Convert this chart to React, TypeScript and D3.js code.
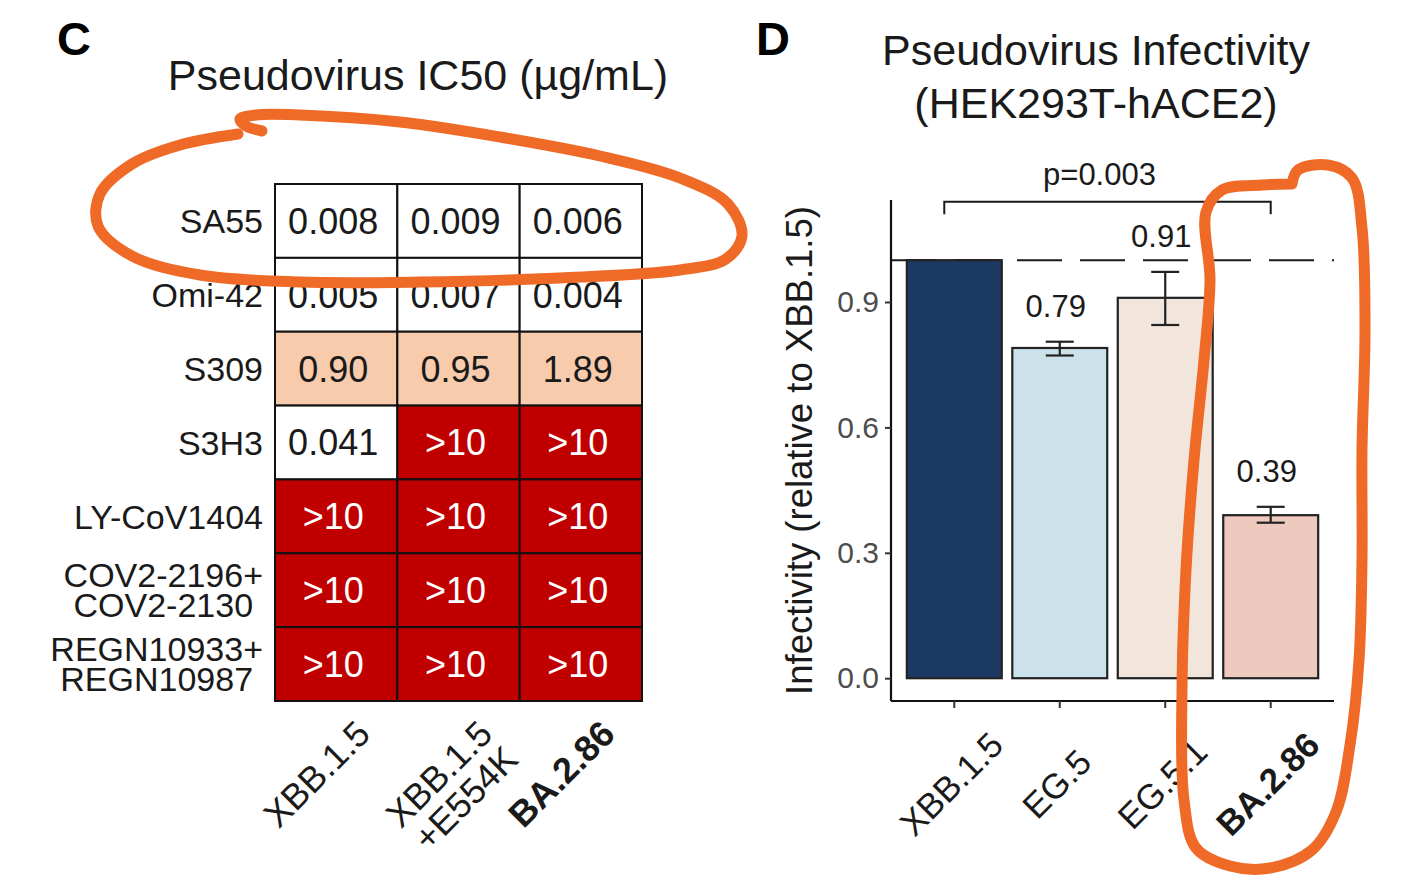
import { useEffect, useRef } from 'react'
import * as d3 from 'd3'

// Panel C: IC50 table
const antibodies = ['SA55', 'Omi-42', 'S309', 'S3H3', 'LY-CoV1404', 'COV2-2196+\nCOV2-2130', 'REGN10933+\nREGN10987']
const pseudoviruses = ['XBB.1.5', 'XBB.1.5\n+E554K', 'BA.2.86']
const ic50XBB15 = ['0.008', '0.005', '0.90', '0.041', '>10', '>10', '>10']
const ic50E554K = ['0.009', '0.007', '0.95', '>10', '>10', '>10', '>10']
const ic50BA286 = ['0.006', '0.004', '1.89', '>10', '>10', '>10', '>10']

// Panel D: infectivity
const variants = ['XBB.1.5', 'EG.5', 'EG.5.1', 'BA.2.86']
const infectivity = [1.0, 0.79, 0.91, 0.39]
const errLow = [1.0, 0.772, 0.845, 0.372]
const errHigh = [1.0, 0.805, 0.972, 0.41]
const barLabels = ['', '0.79', '0.91', '0.39']
const barColors = ['#1C3964', '#CCE2EA', '#F2E6DC', '#EEC9BD']
const yTicks = [0, 0.3, 0.6, 0.9]
const pText = 'p=0.003'

// hand-drawn highlight strokes on top of the figure
const loopSA55: [number, number][] = [
  [262, 131], [246, 126], [240, 119], [256, 115], [300, 115], [400, 122], [500, 137], [600, 156], [680, 178],
  [728, 204], [742, 236], [726, 259], [680, 270], [560, 278], [420, 282], [300, 282], [200, 275],
  [132, 256], [98, 226], [100, 194], [132, 164], [180, 145], [238, 134],
]
const loopBA286: [number, number][] = [
  [1292, 184], [1298, 170], [1328, 165], [1352, 178], [1362, 228], [1365, 330], [1362, 450], [1362, 560],
  [1359, 660], [1350, 745], [1336, 812], [1312, 850], [1270, 868], [1230, 866], [1196, 848], [1184, 800],
  [1182, 690], [1186, 570], [1194, 460], [1204, 360], [1210, 280], [1206, 212], [1222, 190], [1262, 185], [1290, 184],
]

const FONT = "'Liberation Sans', Arial, sans-serif"

function parseIC50(s: string): number {
  return s.startsWith('>') ? Infinity : +s
}

export default function App() {
  const svgRef = useRef<SVGSVGElement>(null)

  useEffect(() => {
    if (!svgRef.current) return
    const svg = d3.select(svgRef.current)
    svg.selectAll('*').remove()
    svg.attr('font-family', FONT)

    // ---------- Panel C ----------
    const c = svg.append('g')
    c.append('text').attr('x', 57).attr('y', 55).attr('font-size', 47).attr('font-weight', 'bold').text('C')
    c.append('text').attr('x', 418).attr('y', 90).attr('text-anchor', 'middle').attr('font-size', 43)
      .attr('fill', '#1a1a1a').text('Pseudovirus IC50 (µg/mL)')

    const cols = [ic50XBB15, ic50E554K, ic50BA286]
    const x = d3.scaleBand<string>().domain(pseudoviruses).range([275, 642])
    const y = d3.scaleBand<string>().domain(antibodies).range([184, 701])
    const fill = d3.scaleThreshold<number, string>().domain([0.1, 10]).range(['#FFFFFF', '#F8CBAD', '#C00000'])

    const cells = pseudoviruses.flatMap((pv, j) => antibodies.map((ab, i) => ({ pv, ab, txt: cols[j][i] })))
    c.selectAll('rect.cell').data(cells).join('rect')
      .attr('x', d => x(d.pv)!).attr('y', d => y(d.ab)!)
      .attr('width', x.bandwidth()).attr('height', y.bandwidth())
      .attr('fill', d => fill(parseIC50(d.txt)))
      .attr('stroke', '#111').attr('stroke-width', 2)
    c.selectAll('text.cell').data(cells).join('text')
      .attr('x', d => x(d.pv)! + x.bandwidth() / 2 - 3).attr('y', d => y(d.ab)! + y.bandwidth() / 2)
      .attr('dy', '0.36em').attr('text-anchor', 'middle').attr('font-size', 36)
      .attr('fill', d => (parseIC50(d.txt) > 10 ? '#fff' : '#1a1a1a'))
      .text(d => d.txt)

    // row labels: block right-aligned, lines centred inside the block
    antibodies.forEach(ab => {
      const lines = ab.split('\n')
      const cy = y(ab)! + y.bandwidth() / 2
      const g = c.append('g')
      const texts = lines.map((ln, k) =>
        g.append('text').attr('y', cy + (k - (lines.length - 1) / 2) * 30)
          .attr('dy', '0.36em').attr('text-anchor', 'middle').attr('font-size', 34).attr('fill', '#1a1a1a').text(ln))
      const w = d3.max(texts, t => (t.node() as SVGTextElement).getComputedTextLength()) ?? 0
      texts.forEach(t => t.attr('x', 263 - w / 2))
    })
    // column labels
    pseudoviruses.forEach(pv => {
      const cx = x(pv)! + x.bandwidth() / 2
      const t = c.append('text').attr('transform', `translate(${cx + 36},736) rotate(-45)`)
        .attr('text-anchor', 'end').attr('font-size', 36).attr('fill', '#1a1a1a')
        .attr('font-weight', pv === 'BA.2.86' ? 'bold' : 'normal')
      pv.split('\n').forEach((ln, k) => {
        t.append('tspan').attr('x', 0).attr('dy', k === 0 ? 0 : '1.0em').text(ln)
      })
    })

    // ---------- Panel D ----------
    const d = svg.append('g')
    d.append('text').attr('x', 756).attr('y', 55).attr('font-size', 47).attr('font-weight', 'bold').text('D')
    d.append('text').attr('x', 1096).attr('y', 65).attr('text-anchor', 'middle').attr('font-size', 43)
      .attr('fill', '#1a1a1a').text('Pseudovirus Infectivity')
    d.append('text').attr('x', 1096).attr('y', 118).attr('text-anchor', 'middle').attr('font-size', 43)
      .attr('fill', '#1a1a1a').text('(HEK293T-hACE2)')

    const bx = d3.scaleBand<string>().domain(variants).range([891, 1334]).paddingInner(0.1).paddingOuter(0.15)
    const by = d3.scaleLinear().domain([-0.0545, 1.144]).range([701, 200])
    const bw = bx.bandwidth()
    const mid = (v: string) => bx(v)! + bw / 2

    // reference line at 1
    d.append('line').attr('x1', 891).attr('x2', 1334).attr('y1', by(1)).attr('y2', by(1))
      .attr('stroke', '#1a1a1a').attr('stroke-width', 2).attr('stroke-dasharray', '45 18')

    // bars
    d.selectAll('rect.bar').data(variants).join('rect')
      .attr('x', v => bx(v)!).attr('width', bw)
      .attr('y', (_, i) => by(infectivity[i])).attr('height', (_, i) => by(0) - by(infectivity[i]))
      .attr('fill', (_, i) => barColors[i]).attr('stroke', '#222').attr('stroke-width', 2.2)

    // error bars
    variants.forEach((v, i) => {
      if (errHigh[i] === errLow[i]) return
      const cx = mid(v)
      const g = d.append('g').attr('stroke', '#222').attr('stroke-width', 2.2)
      g.append('line').attr('x1', cx).attr('x2', cx).attr('y1', by(errLow[i])).attr('y2', by(errHigh[i]))
      g.append('line').attr('x1', cx - 14).attr('x2', cx + 14).attr('y1', by(errLow[i])).attr('y2', by(errLow[i]))
      g.append('line').attr('x1', cx - 14).attr('x2', cx + 14).attr('y1', by(errHigh[i])).attr('y2', by(errHigh[i]))
      d.append('text').attr('x', cx - 4).attr('y', by(errHigh[i]) - 25).attr('text-anchor', 'middle')
        .attr('font-size', 31).attr('fill', '#1a1a1a').text(barLabels[i])
    })

    // significance bracket
    const bl = mid(variants[0]) - 10
    const br = mid(variants[3])
    d.append('path')
      .attr('d', `M${bl},${by(1.11)}V${by(1.14)}H${br}V${by(1.11)}`)
      .attr('fill', 'none').attr('stroke', '#1a1a1a').attr('stroke-width', 2)
    d.append('text').attr('x', (bl + br) / 2 - 8).attr('y', by(1.14) - 17).attr('text-anchor', 'middle')
      .attr('font-size', 31).attr('fill', '#1a1a1a').text(pText)

    // axes
    d.append('g').attr('transform', 'translate(891,0)')
      .call(d3.axisLeft(by).tickValues(yTicks).tickFormat(d3.format('.1f')).tickSize(6).tickPadding(6))
      .call(s => s.select('.domain').attr('d', `M0,${by.range()[1]}V${by.range()[0]}`).attr('stroke', '#111').attr('stroke-width', 2.2))
      .call(s => s.selectAll('.tick line').attr('stroke', '#333').attr('stroke-width', 2))
      .call(s => s.selectAll('.tick text').attr('font-size', 30).attr('fill', '#4D4D4D').attr('font-family', FONT))
    d.append('g').attr('transform', 'translate(0,701)')
      .call(d3.axisBottom(bx).tickSize(7).tickFormat(() => ''))
      .call(s => s.select('.domain').attr('d', `M891,0H1334`).attr('stroke', '#111').attr('stroke-width', 2.2))
      .call(s => s.selectAll('.tick line').attr('stroke', '#333').attr('stroke-width', 2))

    variants.forEach(v => {
      d.append('text').attr('transform', `translate(${mid(v) - 3},784) rotate(-45)`)
        .attr('text-anchor', 'middle').attr('dy', '0.35em').attr('font-size', 35).attr('fill', '#1a1a1a')
        .attr('font-weight', v === 'BA.2.86' ? 'bold' : 'normal').text(v)
    })

    d.append('text').attr('transform', `translate(812,${(by.range()[0] + by.range()[1]) / 2}) rotate(-90)`)
      .attr('text-anchor', 'middle').attr('font-size', 36.5).attr('fill', '#1a1a1a')
      .text('Infectivity (relative to XBB.1.5)')

    // ---------- highlight strokes ----------
    const pen = d3.line().curve(d3.curveCatmullRom.alpha(0.5))
    ;[loopSA55, loopBA286].forEach(pts => {
      svg.append('path').attr('d', pen(pts)).attr('fill', 'none').attr('stroke', '#EE6A26')
        .attr('stroke-width', 11).attr('stroke-linecap', 'round').attr('stroke-linejoin', 'round')
    })
  }, [])

  return (
    <svg ref={svgRef} width={1422} height={888}
      style={{ position: 'absolute', left: 0, top: 0, background: '#fff', display: 'block' }} />
  )
}
